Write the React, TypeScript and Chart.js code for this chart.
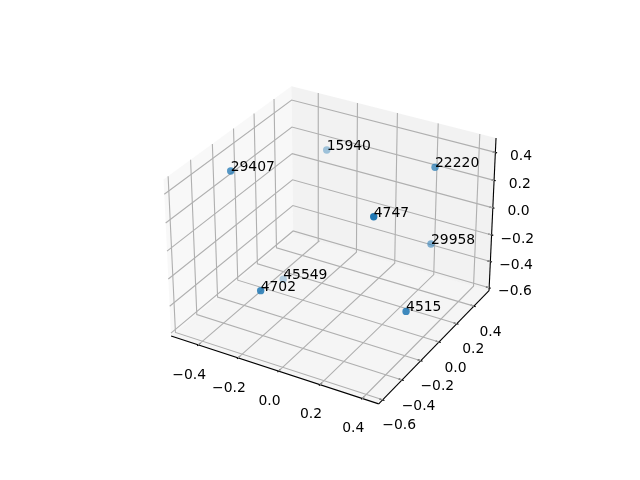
import React, { useEffect, useRef } from "react";
import { Chart, registerables } from "chart.js";

Chart.register(...registerables);

const labels = ["29407", "15940", "22220", "4747", "29958", "45549", "4702", "4515"];
const xValues = [-0.406, -0.251, 0.31, 0.276, 0.312, -0.324, -0.122, 0.421];
const yValues = [-0.281, 0.361, 0.295, -0.272, 0.269, 0.048, -0.56, -0.244];
const zValues = [0.408, 0.259, 0.39, 0.362, -0.146, -0.55, -0.149, -0.258];

const xLimits = [-0.539, 0.4769];
const yLimits = [-0.64, 0.5795];
const zLimits = [-0.622, 0.5016];

const xTicks = [-0.4, -0.2, 0, 0.2, 0.4];
const yTicks = [-0.6, -0.4, -0.2, 0, 0.2, 0.4];
const zTicks = [-0.6, -0.4, -0.2, 0, 0.2, 0.4];

const BOX = [1.1905, 1.1905, 0.8929];
const U = [0.8660254, 0.5, 0];
const V = [-0.25, 0.4330127, 0.8660254];
const W = [0.4330127, -0.75, 0.5];
const DIST = 10;
const FOCAL_PX = 1998;
const CX = 333;
const CY = 237.4;

type V3 = [number, number, number];
const dot = (a: number[], b: number[]) => a[0] * b[0] + a[1] * b[1] + a[2] * b[2];

function boxCoords(p: V3): number[] {
  const lims = [xLimits, yLimits, zLimits];
  return p.map((v, i) => ((v - lims[i][0]) / (lims[i][1] - lims[i][0]) - 0.5) * BOX[i]);
}
function depth(p: V3) {
  return dot(boxCoords(p), W);
}
function project(p: V3) {
  const c = boxCoords(p);
  const k = DIST - dot(c, W);
  return { x: CX + (FOCAL_PX * dot(c, U)) / k, y: CY - (FOCAL_PX * dot(c, V)) / k };
}

const [x0, x1] = xLimits;
const [y0, y1] = yLimits;
const [z0, z1] = zLimits;

const lineSet = (pts: V3[], color: string, width: number) => ({
  data: pts.map(project),
  showLine: true,
  borderColor: color,
  borderWidth: width,
  pointRadius: 0,
  fill: false,
  order: 3,
  clip: false,
});
const paneSet = (pts: V3[], color: string) => ({
  data: [...pts, pts[0]].map(project),
  showLine: true,
  borderWidth: 0,
  borderColor: "transparent",
  backgroundColor: color,
  pointRadius: 0,
  fill: "shape",
  order: 5,
  clip: false,
});

const GRID = "#b0b0b0";
const AXIS = "#000000";
const LW = 1.11;

function buildDatasets() {
  const points: V3[] = xValues.map((x, i) => [x, yValues[i], zValues[i]]);
  const depths = points.map(depth);
  const dMin = Math.min(...depths);
  const dMax = Math.max(...depths);
  const colors = depths.map((d) => {
    const alpha = 1 - 0.7 * ((dMax - d) / (dMax - dMin));
    return `rgba(31,119,180,${alpha.toFixed(3)})`;
  });
  const sets: any[] = [
    {
      data: points.map(project),
      pointRadius: 3.7,
      pointBorderWidth: 0,
      pointBackgroundColor: colors,
      showLine: false,
      order: 0,
      clip: false,
    },
    paneSet([[x0, y0, z0], [x0, y1, z0], [x0, y1, z1], [x0, y0, z1]], "rgba(242,242,242,0.5)"),
    paneSet([[x0, y1, z0], [x1, y1, z0], [x1, y1, z1], [x0, y1, z1]], "rgba(230,230,230,0.5)"),
    paneSet([[x0, y0, z0], [x1, y0, z0], [x1, y1, z0], [x0, y1, z0]], "rgba(236,236,236,0.5)"),
  ];
  xTicks.forEach((t) => sets.push(lineSet([[t, y0, z0], [t, y1, z0], [t, y1, z1]], GRID, LW)));
  yTicks.forEach((t) => sets.push(lineSet([[x1, t, z0], [x0, t, z0], [x0, t, z1]], GRID, LW)));
  zTicks.forEach((t) => sets.push(lineSet([[x0, y0, t], [x0, y1, t], [x1, y1, t]], GRID, LW)));
  sets.push(lineSet([[x0, y0, z0], [x1, y0, z0]], AXIS, LW));
  sets.push(lineSet([[x1, y0, z0], [x1, y1, z0]], AXIS, LW));
  sets.push(lineSet([[x1, y1, z0], [x1, y1, z1]], AXIS, LW));
  const xd = (x1 - x0) / 12.5;
  const yd = (y1 - y0) / 12.5;
  xTicks.forEach((t) => sets.push(lineSet([[t, y0 - 0.1 * yd, z0], [t, y0 + 0.2 * yd, z0]], AXIS, LW)));
  yTicks.forEach((t) => sets.push(lineSet([[x1 + 0.1 * xd, t, z0], [x1 - 0.2 * xd, t, z0]], AXIS, LW)));
  zTicks.forEach((t) => sets.push(lineSet([[x1 + 0.1 * xd, y1, t], [x1 - 0.2 * xd, y1, t]], AXIS, LW)));
  return { sets, points };
}

const fmt = (t: number) => t.toFixed(1).replace("-", "\u2212");

const App = () => {
  const ref = useRef<HTMLCanvasElement>(null);
  useEffect(() => {
    document.body.style.margin = "0";
    const { sets, points } = buildDatasets();
    const textPlugin = {
      id: "texts",
      afterDatasetsDraw(chart: any) {
        const { ctx, scales } = chart;
        const px = (p: { x: number; y: number }) => ({
          x: scales.x.getPixelForValue(p.x),
          y: scales.y.getPixelForValue(p.y),
        });
        ctx.save();
        ctx.fillStyle = "#000";
        ctx.font = '13.9px "DejaVu Sans"';
        ctx.textAlign = "center";
        ctx.textBaseline = "middle";
        xTicks.forEach((t) => {
          const p = px(project([t, y0, z0]));
          ctx.fillText(fmt(t), p.x - 9, p.y + 30);
        });
        yTicks.forEach((t) => {
          const p = px(project([x1, t, z0]));
          ctx.fillText(fmt(t), p.x + 16.5, p.y + 26);
        });
        zTicks.forEach((t) => {
          const p = px(project([x1, y1, t]));
          ctx.fillText(fmt(t), p.x + 25.7, p.y + 4);
        });
        ctx.textAlign = "left";
        ctx.textBaseline = "alphabetic";
        points.forEach((pt, i) => {
          const p = px(project(pt));
          ctx.fillText(labels[i], p.x, p.y);
        });
        ctx.restore();
      },
    };
    const chart = new Chart(ref.current!, {
      type: "scatter",
      data: { datasets: sets },
      options: {
        animation: false,
        responsive: false,
        layout: { padding: 0, autoPadding: false },
        plugins: { legend: { display: false }, tooltip: { enabled: false } },
        scales: {
          x: { type: "linear", min: 0, max: 640, display: false },
          y: { type: "linear", min: 0, max: 480, reverse: true, display: false },
        },
      },
      plugins: [textPlugin],
    } as any);
    return () => chart.destroy();
  }, []);
  return <canvas ref={ref} width={640} height={480} style={{ display: "block" }} />;
};

export default App;
